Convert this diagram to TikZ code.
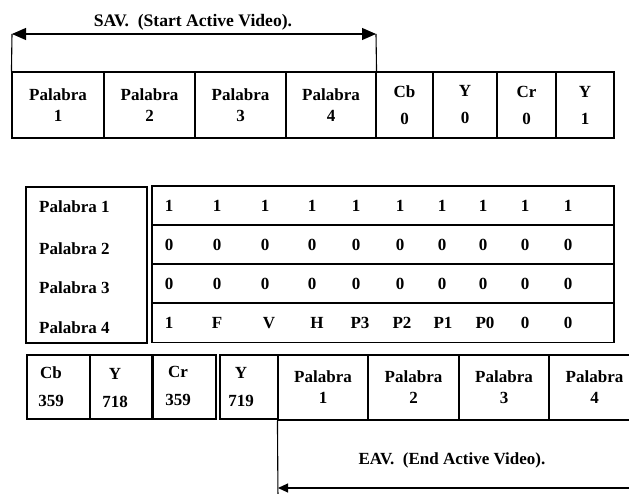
\documentclass[tikz,border=0pt]{standalone}
\usepackage{fontspec}
\setmainfont{Liberation Serif}
\usetikzlibrary{arrows.meta}

\tikzset{
  cell/.style={shape=rectangle,draw=black,line width=1.1pt,inner sep=0pt,
    align=center,font=\bfseries\fontsize{17}{21}\selectfont},
  txt/.style={inner sep=0pt,align=center,font=\bfseries\fontsize{17}{28}\selectfont},
  bit/.style={inner sep=0pt,font=\bfseries\fontsize{17}{20}\selectfont},
  span/.style={line width=1.1pt}
}

\begin{document}
\begin{tikzpicture}[x=1pt,y=-1pt]
  \useasboundingbox (0,0) rectangle (629,494);

  % SAV words
  \node[cell,minimum width=92,minimum height=66] (p1) at (58,105) {Palabra\\1};
  \node[cell,minimum width=91,minimum height=66] (p2) at (149.5,105) {Palabra\\2};
  \node[cell,minimum width=91,minimum height=66] (p3) at (240.5,105) {Palabra\\3};
  \node[cell,minimum width=90,minimum height=66] (p4) at (331,105) {Palabra\\4};
  \node[cell,minimum width=57,minimum height=66,font=\bfseries\fontsize{17}{27}\selectfont] (cb0) at (404.5,105) {Cb\\0};
  \node[cell,minimum width=64,minimum height=66,font=\bfseries\fontsize{17}{27}\selectfont] (y0) at (465,105) {Y\\0};
  \node[cell,minimum width=59,minimum height=66,font=\bfseries\fontsize{17}{27}\selectfont] (cr0) at (526.5,105) {Cr\\0};
  \node[cell,minimum width=58,minimum height=66,font=\bfseries\fontsize{17}{27}\selectfont] (y1) at (585,105) {Y\\1};

  \coordinate (sl) at (12,34);
  \coordinate (sr) at (376,34);
  \node[bit,font=\bfseries\fontsize{17.6}{20}\selectfont] (sav) at (193,22) {SAV.\ \ (Start Active Video).};
  \draw[span] (sl) -- (p1.north west);
  \draw[span] (sr) -- (p4.north east);
  \draw[span,{Triangle[length=14pt,width=12pt]}-{Triangle[length=14pt,width=12pt]}] (sl) -- (sr);

  % word table
  \node[cell,minimum width=121,minimum height=156] (lbox) at (86.5,265) {};
  \node[bit,anchor=west] (l1) at (39,207) {Palabra 1};
  \node[bit,anchor=west] (l2) at (39,249) {Palabra 2};
  \node[bit,anchor=west] (l3) at (39,288) {Palabra 3};
  \node[bit,anchor=west] (l4) at (39,328) {Palabra 4};

  \node[cell,minimum width=462,minimum height=39] (r1) at (383,205.5) {};
  \node[cell,minimum width=462,minimum height=39] (r2) at (383,244.5) {};
  \node[cell,minimum width=462,minimum height=39] (r3) at (383,283.5) {};
  \node[cell,minimum width=462,minimum height=39] (r4) at (383,323) {};

  \node[bit] (a1) at (169,206) {1};
  \node[bit] (a2) at (217,206) {1};
  \node[bit] (a3) at (265,206) {1};
  \node[bit] (a4) at (312,206) {1};
  \node[bit] (a5) at (356,206) {1};
  \node[bit] (a6) at (400,206) {1};
  \node[bit] (a7) at (442,206) {1};
  \node[bit] (a8) at (483,206) {1};
  \node[bit] (a9) at (525,206) {1};
  \node[bit] (a10) at (568,206) {1};

  \node[bit] (b1) at (169,245) {0};
  \node[bit] (b2) at (217,245) {0};
  \node[bit] (b3) at (265,245) {0};
  \node[bit] (b4) at (312,245) {0};
  \node[bit] (b5) at (356,245) {0};
  \node[bit] (b6) at (400,245) {0};
  \node[bit] (b7) at (442,245) {0};
  \node[bit] (b8) at (483,245) {0};
  \node[bit] (b9) at (525,245) {0};
  \node[bit] (b10) at (568,245) {0};

  \node[bit] (c1) at (169,284) {0};
  \node[bit] (c2) at (217,284) {0};
  \node[bit] (c3) at (265,284) {0};
  \node[bit] (c4) at (312,284) {0};
  \node[bit] (c5) at (356,284) {0};
  \node[bit] (c6) at (400,284) {0};
  \node[bit] (c7) at (442,284) {0};
  \node[bit] (c8) at (483,284) {0};
  \node[bit] (c9) at (525,284) {0};
  \node[bit] (c10) at (568,284) {0};

  \node[bit] (d1) at (169,323) {1};
  \node[bit] (d2) at (217,323) {F};
  \node[bit] (d3) at (269,323) {V};
  \node[bit] (d4) at (317,323) {H};
  \node[bit] (d5) at (360,323) {P3};
  \node[bit] (d6) at (402,323) {P2};
  \node[bit] (d7) at (443,323) {P1};
  \node[bit] (d8) at (485,323) {P0};
  \node[bit] (d9) at (525,323) {0};
  \node[bit] (d10) at (568,323) {0};

  % last samples and EAV words
  \node[cell,minimum width=63,minimum height=64] (cb359) at (58.5,387) {};
  \node[cell,minimum width=62,minimum height=64] (y718) at (121,387) {};
  \node[cell,minimum width=63,minimum height=64] (cr359) at (184.5,387) {};
  \node[cell,minimum width=58,minimum height=64] (y719) at (249,387) {};
  \node[txt] (t1) at (51,387) {Cb\\359};
  \node[txt] (t2) at (115,388) {Y\\718};
  \node[txt] (t3) at (178,386) {Cr\\359};
  \node[txt] (t4) at (241,387) {Y\\719};

  \node[cell,minimum width=90,minimum height=65] (e1) at (323,387.5) {Palabra\\1};
  \node[cell,minimum width=91,minimum height=65] (e2) at (413.5,387.5) {Palabra\\2};
  \node[cell,minimum width=90,minimum height=65] (e3) at (504,387.5) {Palabra\\3};
  \node[cell,minimum width=91,minimum height=65] (e4) at (594.5,387.5) {Palabra\\4};

  \coordinate (ebot) at (278,500);
  \coordinate (el) at (278,488);
  \coordinate (er) at (640,488);
  \node[bit] (eav) at (452,460) {EAV.\ \ (End Active Video).};
  \draw[span] (e1.south west) -- (ebot);
  \draw[span,-{Triangle[length=10pt,width=9pt]}] (er) -- (el);

\end{tikzpicture}
\end{document}
